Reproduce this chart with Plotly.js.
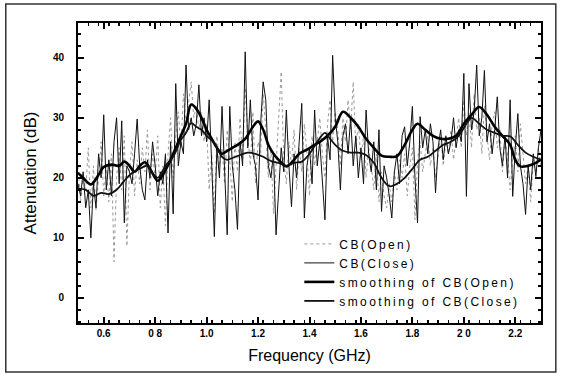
<!DOCTYPE html>
<html>
<head>
<meta charset="utf-8">
<script src="https://cdn.plot.ly/plotly-3.0.1.min.js"></script>
<style>
html,body{margin:0;padding:0;background:#fff;}
#chart{width:563px;height:376px;}
#chart .legendtext{letter-spacing:2.4px;}
#chart .legend, #chart .legend .scrollbox{clip-path:none !important;}
</style>
</head>
<body>
<div id="chart"></div>
<script>
// Raw measurement frequencies (GHz)
const freq = [
0.50,0.51,0.52,0.53,0.54,0.55,0.56,0.57,0.58,0.59,
0.60,0.61,0.62,0.63,0.64,0.65,0.66,0.67,0.68,0.69,
0.70,0.71,0.72,0.73,0.74,0.75,0.76,0.77,0.78,0.79,
0.80,0.81,0.82,0.83,0.84,0.85,0.86,0.87,0.88,0.89,
0.90,0.91,0.92,0.93,0.94,0.95,0.96,0.97,0.98,0.99,
1.00,1.01,1.02,1.03,1.04,1.05,1.06,1.07,1.08,1.09,
1.10,1.11,1.12,1.13,1.14,1.15,1.16,1.17,1.18,1.19,
1.20,1.21,1.22,1.23,1.24,1.25,1.26,1.27,1.28,1.29,
1.30,1.31,1.32,1.33,1.34,1.35,1.36,1.37,1.38,1.39,
1.40,1.41,1.42,1.43,1.44,1.45,1.46,1.47,1.48,1.49,
1.50,1.51,1.52,1.53,1.54,1.55,1.56,1.57,1.58,1.59,
1.60,1.61,1.62,1.63,1.64,1.65,1.66,1.67,1.68,1.69,
1.70,1.71,1.72,1.73,1.74,1.75,1.76,1.77,1.78,1.79,
1.80,1.81,1.82,1.83,1.84,1.85,1.86,1.87,1.88,1.89,
1.90,1.91,1.92,1.93,1.94,1.95,1.96,1.97,1.98,1.99,
2.00,2.01,2.02,2.03,2.04,2.05,2.06,2.07,2.08,2.09,
2.10,2.11,2.12,2.13,2.14,2.15,2.16,2.17,2.18,2.19,
2.20,2.21,2.22,2.23,2.24,2.25,2.26,2.27,2.28,2.29,
2.30];

// CB(Close) attenuation (dB)
const cbClose = [
19,17,21,15,18,10,19,15,24,20,
30.5,18,23,17,26,30,19,29.5,12.5,22,
21,19,24,29.8,22,18,16.3,23,20,26,
22,17,21,19,24,10.8,26,14,35.7,22,
26,24,38.8,28,30,27,29,35.5,27,30,
26,33,22,10.2,25,20,31.9,21,10.5,31.9,
22,18,11.4,26,22,41,25,33,24,22,
16.3,29,36,33,22,20,24,10.5,18,25,
21,31.3,22,15.2,24,20,26,32.4,13.3,22,
25,19,31.3,22,26,20,13,27,23,40.4,
30,26,18,27,29,24,30,22,27,20,
25,19,31.3,24,21,26,18,28,14.4,22,
20,17,13.3,21,24,19,27,28.5,22,26,
31.9,20,12.5,30.2,25,28,24,29,26,17.5,
25,28,23,27,24,26,30,25,28,26,
37.4,16.9,35.7,28,31,38.8,27,30,37.9,26,
29,24,28,33.5,25,22,27,20,33,16.9,
25,30.7,22,19,13.9,22,18,24,20.2,25,
28];

// CB(Open) attenuation (dB)
const cbOpen = [
22,16,20,18,25,15,22,14.5,20,26,
17,22,16,24,6,20,25,18,27,8.6,
21,26,17,23,19,25,21,28,18,24,
20,27,15,22,12,24,30,20,27,31,
25,34,29,33,36,30,32,28,31,26,
29,18,24,14,27,22,25,19,28,23,
16,26,21,30,23,35,27,22,31,19,
26,24,34,28,20,25,14,22,30,37.7,
23,19,26,22,28,18,25,21,29,24,
17,27,22,26,30,24,20,29,33,26,
31,28,22,30,26,33,28,36,25,29,
23,27,20,25,22,18,24,16,21,17,
15,19,16,21,18,23,20,24,17,22,
25,13,23,26,21,24,27,22,25,20,
24,27,22,26,24,28,23,27,30,25,
33,27,31,25,34,28,30,24,32,27,
23,29,31,25,28,21,26,24,18,23,
27,21,29,24,19,22,16,23,21,25,
22];

// Smoothing of CB(Open)
const smoothOpenX = [0.50,0.52,0.55,0.58,0.60,0.63,0.66,0.68,0.70,0.72,0.74,0.76,0.78,0.81,0.83,0.86,0.88,0.90,0.92,0.94,0.96,0.98,1.00,1.02,1.04,1.06,1.08,1.10,1.12,1.15,1.18,1.20,1.22,1.24,1.26,1.28,1.31,1.33,1.36,1.39,1.42,1.44,1.47,1.50,1.53,1.56,1.59,1.62,1.65,1.68,1.71,1.74,1.77,1.80,1.82,1.85,1.88,1.91,1.94,1.97,2.00,2.03,2.06,2.09,2.12,2.15,2.18,2.20,2.22,2.25,2.28,2.30];
const smoothOpenY = [20.8,20.0,18.9,20.5,21.8,22.2,22.0,22.7,22.0,21.0,22.0,22.6,21.5,19.5,20.5,23.0,25.0,27.0,29.0,32.2,31.5,30.0,28.0,26.5,25.0,24.0,24.5,25.0,25.5,26.5,28.5,29.4,28.0,25.5,24.0,23.0,21.9,22.5,24.0,24.7,25.5,26.0,27.0,28.5,31.0,30.0,28.5,26.5,25.0,23.7,23.5,23.6,25.5,28.0,29.0,28.0,27.0,26.5,26.5,27.0,29.0,30.5,31.8,30.5,28.5,27.0,25.5,23.0,21.9,22.0,22.5,23.0];

// Smoothing of CB(Close)
const smoothCloseX = [0.50,0.53,0.56,0.59,0.62,0.65,0.68,0.71,0.74,0.77,0.79,0.81,0.84,0.87,0.90,0.92,0.94,0.96,0.98,1.00,1.03,1.06,1.08,1.10,1.13,1.16,1.19,1.22,1.25,1.28,1.31,1.34,1.37,1.40,1.43,1.46,1.48,1.50,1.53,1.56,1.59,1.62,1.65,1.68,1.71,1.74,1.77,1.80,1.83,1.86,1.89,1.92,1.95,1.98,2.01,2.03,2.06,2.09,2.12,2.15,2.18,2.21,2.24,2.27,2.30];
const smoothCloseY = [18.2,18.0,17.0,17.5,17.3,18.0,19.5,20.8,21.5,22.0,20.8,20.0,22.0,23.5,26.3,27.5,29.1,28.5,28.0,27.0,25.8,23.5,23.0,23.3,23.8,24.2,24.0,23.5,22.8,22.5,22.0,22.5,22.7,24.0,26.0,27.5,26.5,25.5,24.5,24.2,24.2,23.8,22.5,20.0,18.6,19.0,20.0,21.5,23.0,23.5,24.5,25.5,26.0,27.0,29.0,30.0,29.0,28.0,27.5,27.0,26.9,25.5,24.2,23.5,23.0];

const seriesNames = ["CB(Open)","CB(Close)","smoothing of CB(Open)","smoothing of CB(Close)"];
const xTickVals = [0.6,0.8,1.0,1.2,1.4,1.6,1.8,2.0,2.2];
const xTickText = ["0.6","0 8","1.0","1.2","1.4","1.6","1.8","2 0","2.2"];

const traces = [
  {x: freq, y: cbOpen, name: seriesNames[0], mode: "lines",
   line: {color: "#9a9a9a", width: 1, dash: "dot"}},
  {x: freq, y: cbClose, name: seriesNames[1], mode: "lines",
   line: {color: "#111", width: 1}},
  {x: smoothOpenX, y: smoothOpenY, name: seriesNames[2], mode: "lines",
   line: {color: "#000", width: 2.6, shape: "spline"}},
  {x: smoothCloseX, y: smoothCloseY, name: seriesNames[3], mode: "lines",
   line: {color: "#111", width: 1.8, shape: "spline"}}
];

const axisFont = {family: "Liberation Sans, Arial, sans-serif", size: 10, color: "#000", weight: "bold"};

const layout = {
  width: 563, height: 376,
  margin: {l: 78, r: 22, t: 23, b: 53},
  paper_bgcolor: "#fff", plot_bgcolor: "#fff",
  showlegend: true,
  legend: {
    x: 0.478, y: 0.312, xanchor: "left", yanchor: "top",
    bgcolor: "rgba(0,0,0,0)", borderwidth: 0,
    font: {family: "Liberation Sans, Arial, sans-serif", size: 12, color: "#000"},
    tracegroupgap: 0
  },
  xaxis: {
    range: [0.5, 2.3],
    tickvals: xTickVals, ticktext: xTickText,
    ticks: "inside", ticklen: 6, tickwidth: 2, tickcolor: "#000",
    minor: {dtick: 0.04, tick0: 0.5, ticks: "inside", ticklen: 3, tickwidth: 1.5, tickcolor: "#000", showgrid: false},
    showline: true, linewidth: 2, linecolor: "#000", mirror: "ticks",
    showgrid: false, zeroline: false,
    tickfont: axisFont,
    title: {text: "Frequency (GHz)", font: {family: "Liberation Sans, Arial, sans-serif", size: 16, color: "#000"}, standoff: 12}
  },
  yaxis: {
    range: [-4.2, 45.8],
    tickvals: [0, 10, 20, 30, 40],
    ticks: "inside", ticklen: 6, tickwidth: 2, tickcolor: "#000",
    ticklabelstandoff: 10,
    minor: {dtick: 2, tick0: 0, ticks: "inside", ticklen: 3, tickwidth: 1.5, tickcolor: "#000", showgrid: false},
    showline: true, linewidth: 2, linecolor: "#000", mirror: "ticks",
    showgrid: false, zeroline: false,
    tickfont: axisFont,
    title: {text: "Attenuation (dB)", font: {family: "Liberation Sans, Arial, sans-serif", size: 17, color: "#000"}, standoff: 12}
  },
  shapes: [
    {type: "rect", xref: "paper", yref: "paper",
     x0: -0.156, x1: 1.032, y0: -0.163, y1: 1.063,
     line: {color: "#333", width: 1.5}, fillcolor: "rgba(0,0,0,0)", layer: "below"}
  ]
};

Plotly.newPlot("chart", traces, layout, {displayModeBar: false, staticPlot: true});
</script>
</body>
</html>
